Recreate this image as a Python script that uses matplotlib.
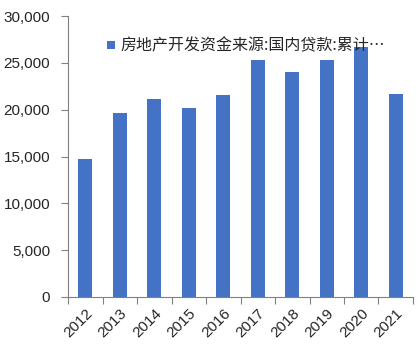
import numpy as np
import matplotlib.pyplot as plt

plt.rcParams['font.family'] = ['Liberation Sans', 'Noto Sans CJK SC', 'DejaVu Sans']

years = ['2012', '2013', '2014', '2015', '2016', '2017', '2018', '2019', '2020', '2021']
loans = [14730, 19640, 21200, 20170, 21560, 25300, 24000, 25300, 26700, 21700]
label = '房地产开发资金来源:国内贷款:累计…'

fig = plt.figure(figsize=(4.18, 3.51), dpi=100)
ax = fig.add_axes([0.163, 0.154, 0.825, 0.80])

x = np.arange(len(years))
ax.bar(x, loans, width=0.4, color='#4472C4', label=label)

txt = '#262626'
ax.set_xlim(-0.5, len(years) - 0.5)
ax.set_ylim(0, 30000)
ax.set_yticks(np.arange(0, 30001, 5000))
ax.set_yticklabels(['{:,}'.format(v) for v in range(0, 30001, 5000)])
ax.set_xticks(np.arange(-0.5, len(years), 1.0), minor=False)
ax.set_xticklabels([])
ax.set_xticks(x, minor=True)
ax.set_xticklabels(years, minor=True, rotation=45, ha='right', va='top',
                   rotation_mode='anchor')
ax.tick_params(axis='x', which='minor', length=0, pad=7, labelsize=11, labelcolor=txt)
ax.tick_params(axis='x', which='major', length=5, color='#808080')
ax.tick_params(axis='y', length=5, color='#808080', labelsize=11, pad=8, labelcolor=txt)

for s in ['top', 'right']:
    ax.spines[s].set_visible(False)
for s in ['left', 'bottom']:
    ax.spines[s].set_color('#808080')

leg = ax.legend(loc='upper left', bbox_to_anchor=(0.072, 0.975), frameon=False,
                handlelength=0.45, handleheight=0.45, handletextpad=0.35,
                prop={'family': ['Noto Sans CJK SC'], 'size': 11.5})
for t in leg.get_texts():
    t.set_color(txt)

fig.savefig('out.png', dpi=100)
